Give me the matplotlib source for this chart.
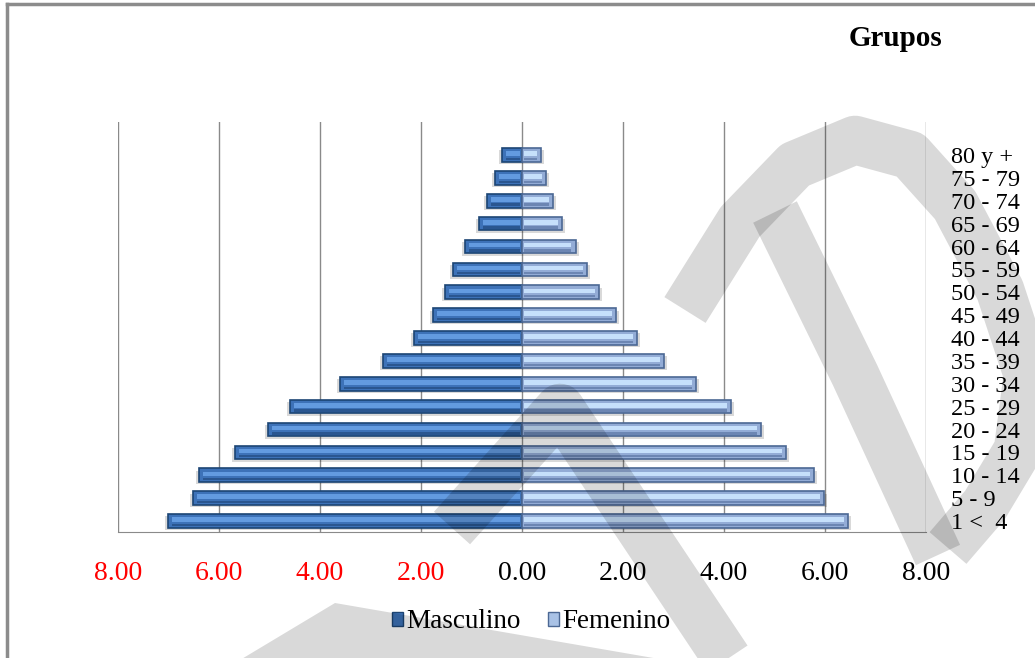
import numpy as np
import matplotlib.pyplot as plt
from matplotlib.patches import Patch, Polygon
from matplotlib.lines import Line2D

plt.rcParams['font.family'] = ['Liberation Serif', 'DejaVu Serif']

# grupos de edad (de abajo hacia arriba)
grupos = ['1 <  4', '5 - 9', '10 - 14', '15 - 19', '20 - 24', '25 - 29', '30 - 34',
          '35 - 39', '40 - 44', '45 - 49', '50 - 54', '55 - 59', '60 - 64',
          '65 - 69', '70 - 74', '75 - 79', '80 y +']
masculino = [7.01, 6.52, 6.40, 5.69, 5.03, 4.60, 3.61, 2.75, 2.14, 1.76, 1.52,
             1.37, 1.12, 0.85, 0.69, 0.54, 0.39]
femenino = [6.45, 5.98, 5.78, 5.22, 4.74, 4.13, 3.45, 2.81, 2.28, 1.86, 1.52,
            1.29, 1.06, 0.79, 0.61, 0.48, 0.38]
xticks = [-8, -6, -4, -2, 0, 2, 4, 6, 8]

# marca de agua (pixeles de la figura)
wm_lines = [
    [(685, 310), (740, 222), (795, 165), (855, 140), (910, 155), (955, 205),
     (1000, 290), (1028, 375), (1018, 450), (985, 505), (948, 548)],
    [(775, 212), (855, 375), (938, 555)],
    [(452, 528), (560, 408), (640, 528), (738, 675)],
]
wm_polys = [
    [(240, 660), (335, 603), (665, 660)],
]

y = np.arange(len(grupos))
m = -np.array(masculino)
f = np.array(femenino)
h = 0.6

fig = plt.figure(figsize=(10.35, 6.58), dpi=100)
ax = fig.add_axes([0.114, 0.1915, 0.7807, 0.623])

# sombra
ax.barh(y - 0.1, m - 0.06, height=h, color='#000000', alpha=0.15, zorder=2)
ax.barh(y - 0.1, f + 0.06, height=h, color='#000000', alpha=0.15, zorder=2)

# masculino
ax.barh(y, m, height=h, color='#3d72b8', edgecolor='#1c4574', linewidth=1.2, zorder=3)
ax.barh(y + 0.06, m + 0.12, left=-0.04, height=0.2, color='#639be0', zorder=4)
ax.barh(y - 0.17, m + 0.12, left=-0.04, height=0.1, color='#2a5690', zorder=4)

# femenino
ax.barh(y, f, height=h, color='#93acd6', edgecolor='#4c6894', linewidth=1.2, zorder=3)
ax.barh(y + 0.06, f - 0.12, left=0.04, height=0.2, color='#c6e0fb', zorder=4)
ax.barh(y - 0.17, f - 0.12, left=0.04, height=0.1, color='#6c86b3', zorder=4)

ax.set_xlim(-8, 8)
ax.set_ylim(-0.48, 17.44)
ax.set_xticks(xticks)
ax.set_xticklabels(['%.2f' % abs(v) for v in xticks], fontsize=20)
for lab, v in zip(ax.get_xticklabels(), xticks):
    lab.set_color('#ff0000' if v < 0 else 'black')
ax.tick_params(axis='x', length=0, pad=21)
ax.set_yticks(y)
ax.set_yticklabels(grupos, fontsize=17.5)
ax.yaxis.tick_right()
ax.tick_params(axis='y', length=0, pad=18)
ax.grid(axis='x', color='#8a8a8a', linewidth=1)
ax.set_axisbelow(True)
for s in ['top', 'left', 'right']:
    ax.spines[s].set_visible(False)
ax.spines['bottom'].set_color('#8a8a8a')

fig.text(0.865, 0.942, 'Grupos', fontsize=21, fontweight='bold', ha='center', va='center')

handles = [Patch(facecolor='#3d72b8', edgecolor='#1c4574'),
           Patch(facecolor='#a9c2e6', edgecolor='#4c6894')]
fig.legend(handles, ['Masculino', 'Femenino'], loc='center', bbox_to_anchor=(0.513, 0.055),
           ncol=2, frameon=False, fontsize=19.5, handlelength=0.42, handleheight=0.42,
           handletextpad=0.12, columnspacing=1.0)

# borde y marca de agua
ov = fig.add_axes([0, 0, 1, 1], zorder=10)
ov.set_xlim(0, 1035)
ov.set_ylim(658, 0)
ov.axis('off')
ov.plot([7, 1035], [4, 4], color='#8c8c8c', linewidth=2.5)
ov.plot([7, 7], [4, 658], color='#8c8c8c', linewidth=2.5)
for pts in wm_lines:
    xs, ys = zip(*pts)
    ov.add_line(Line2D(xs, ys, color='black', alpha=0.15, linewidth=35,
                       solid_joinstyle='round', solid_capstyle='butt'))
for pts in wm_polys:
    ov.add_patch(Polygon(pts, closed=True, color='black', alpha=0.15, linewidth=0))

fig.savefig('out.png', dpi=100)
